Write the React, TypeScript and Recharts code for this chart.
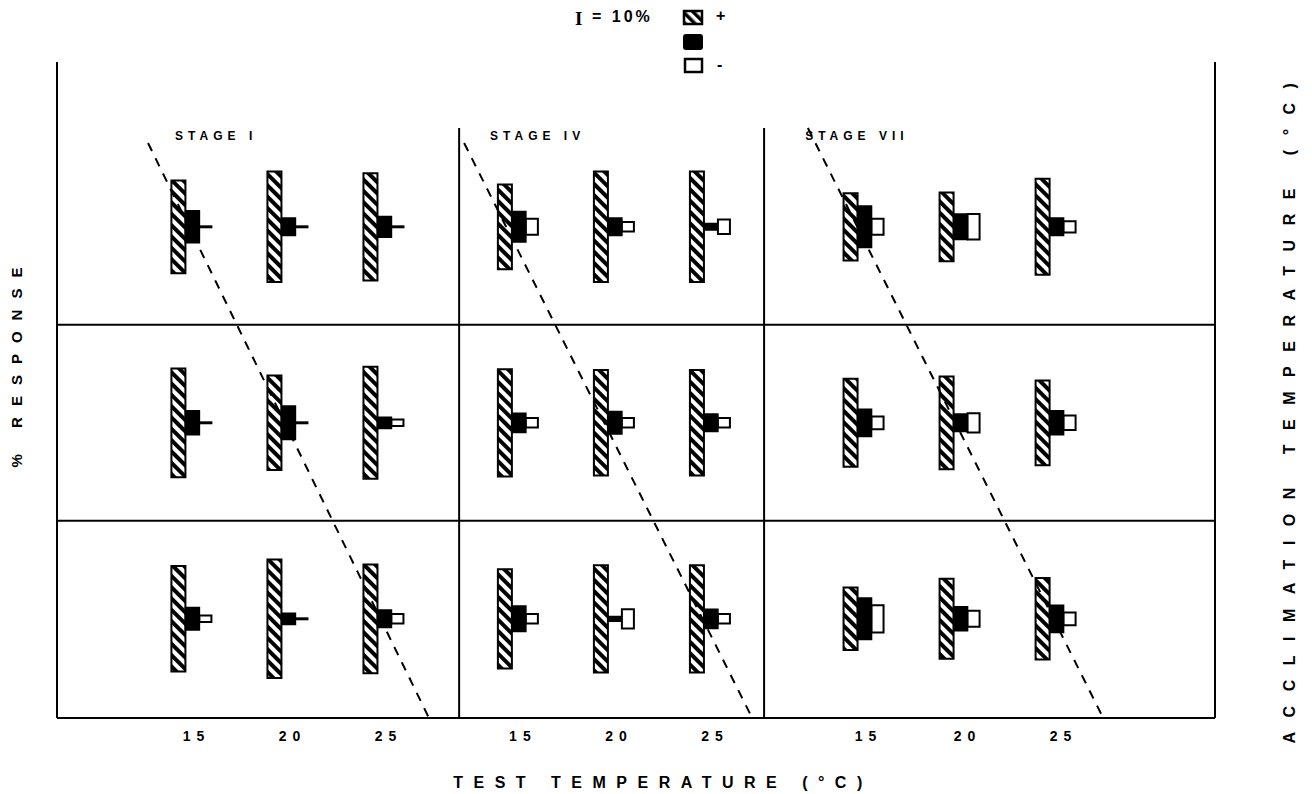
import { ComposedChart, Bar, XAxis, YAxis, ReferenceLine, ReferenceDot, Label } from 'recharts';

const stageNames = ['STAGE I', 'STAGE IV', 'STAGE VII'];
const testTemps = [15, 20, 25];
const acclimationTemps = [15, 20, 25];

// % response; order: acclimation 15 (test 15,20,25), acclimation 20 (...), acclimation 25 (...)
const stageIPlus = [58, 69, 67, 68, 59, 70, 66, 74, 68];
const stageIZero = [20, 11, 13, 15, 21, 7, 14, 7, 11];
const stageIMinus = [0.6, 0.6, 0.6, 0.6, 0.6, 4, 4, 0.6, 6];
const stageIVPlus = [53, 69, 69, 67, 66, 66, 62, 67, 67];
const stageIVZero = [19, 11, 4, 12, 14, 11, 16, 3, 12];
const stageIVMinus = [10, 6, 9, 6, 6, 6, 6, 12, 6];
const stageVIIPlus = [42, 43, 60, 55, 58, 53, 39, 50, 51];
const stageVIIZero = [26, 16, 11, 17, 11, 15, 26, 15, 17];
const stageVIIMinus = [10, 16, 7, 8, 12, 9, 17, 10, 8];

// layout (axis units: x = shifted test temp, y = % response)
const STAGE_SHIFT = [0, 17, 35];
const ROW_CENTER = [307, 184.5, 62];
const Y_MAX = 410;
const X_DOMAIN: [number, number] = [8, 68.3];
const STAGE_DIVIDERS = [28.94, 44.82];
const STAGE_LABEL_X = [14.15, 30.55, 46.96];
const DASHED = [
  [12.74, 359.4, 27.37, 0],
  [29.2, 359.4, 44.2, 0],
  [47.1, 368.75, 62.48, 0],
];

const FONT = '"Liberation Sans", Arial, sans-serif';

const plusSets = [stageIPlus, stageIVPlus, stageVIIPlus];
const zeroSets = [stageIZero, stageIVZero, stageVIIZero];
const minusSets = [stageIMinus, stageIVMinus, stageVIIMinus];

const data: any[] = [];
stageNames.forEach((_, s) => {
  acclimationTemps.forEach((_, r) => {
    testTemps.forEach((t, c) => {
      const i = r * 3 + c;
      const mid = ROW_CENTER[r];
      const span = (v: number) => [mid - v / 2, mid + v / 2];
      data.push({
        x: STAGE_SHIFT[s] + t,
        plus: span(plusSets[s][i]),
        zero: span(zeroSets[s][i]),
        minus: span(minusSets[s][i]),
      });
    });
  });
});

const xTicks = STAGE_SHIFT.flatMap((sh) => testTemps.map((t) => sh + t));

function TestTick(props: any) {
  const { x, y, index } = props;
  const nudge = index >= 7 ? 5 : 2;
  return (
    <text x={x + 3 + nudge} y={y + 15} textAnchor="middle" fontFamily={FONT} fontWeight="bold" fontSize={14} letterSpacing={6} fill="#000">
      {String(testTemps[index % 3])}
    </text>
  );
}

function AcclimTick(props: any) {
  const { x, y, payload } = props;
  const idx = ROW_CENTER.indexOf(payload.value);
  return (
    <text x={x + 32} y={y + 5} textAnchor="middle" fontFamily={FONT} fontWeight="bold" fontSize={14} letterSpacing={6} fill="#000">
      {String(acclimationTemps[idx])}
    </text>
  );
}

const textStyle = { fontFamily: FONT, fontWeight: 'bold' as const, fill: '#000' };

export default function App() {
  const divY = [(ROW_CENTER[0] + ROW_CENTER[1]) / 2, (ROW_CENTER[1] + ROW_CENTER[2]) / 2];
  return (
    <div style={{ position: 'absolute', left: 0, top: 0, width: 1312, height: 794, background: '#fff' }}>
      <svg width={200} height={80} style={{ position: 'absolute', left: 560, top: 0 }}>
        <defs>
          <pattern id="hatchLegend" patternUnits="userSpaceOnUse" width="7" height="7" patternTransform="rotate(-45)">
            <rect width="7" height="7" fill="#fff" />
            <rect width="3.5" height="7" fill="#000" />
          </pattern>
        </defs>
        <text x={15} y={25} fontSize={19} {...textStyle} fontFamily="'Liberation Serif', serif">I</text>
        <text x={32} y={22} fontSize={16} letterSpacing={3} {...textStyle}>= 10%</text>
        <rect x={124} y={11} width={18} height={13} fill="url(#hatchLegend)" stroke="#000" strokeWidth={2.5} />
        <text x={156} y={21} fontSize={16} {...textStyle}>+</text>
        <rect x={124} y={35} width={18} height={14} rx={2} fill="#000" stroke="#000" strokeWidth={2} />
        <rect x={125} y={59} width={17} height={13} fill="#fff" stroke="#000" strokeWidth={2.5} />
        <text x={157} y={70} fontSize={16} {...textStyle}>-</text>
      </svg>
      <ComposedChart width={1312} height={794} data={data} margin={{ top: 62, right: 0, bottom: 0, left: 0 }} barGap={0}>
        <defs>
          <pattern id="hatch" patternUnits="userSpaceOnUse" width="8" height="8" patternTransform="rotate(-45)">
            <rect width="8" height="8" fill="#fff" />
            <rect width="4" height="8" fill="#000" />
          </pattern>
        </defs>
        <XAxis
          dataKey="x"
          type="number"
          domain={X_DOMAIN}
          ticks={xTicks}
          interval={0}
          height={76}
          tickLine={false}
          axisLine={{ stroke: '#000', strokeWidth: 2 }}
          tick={<TestTick />}
        >
          <Label
            content={(p: any) => {
              const vb = p.viewBox;
              return (
                <text x={vb.x + 606} y={vb.y + 70} textAnchor="middle" fontSize={16} letterSpacing={10.5} {...textStyle}>
                  TEST  TEMPERATURE (°C)
                </text>
              );
            }}
          />
        </XAxis>
        <YAxis
          yAxisId="left"
          type="number"
          domain={[0, Y_MAX]}
          width={57}
          tick={false}
          tickLine={false}
          axisLine={{ stroke: '#000', strokeWidth: 2 }}
        >
          <Label
            content={(p: any) => {
              const vb = p.viewBox;
              const cx = vb.x + 22;
              const cy = 362;
              return (
                <text x={cx} y={cy} textAnchor="middle" transform={`rotate(-90 ${cx} ${cy})`} fontSize={15} letterSpacing={11} {...textStyle}>
                  % RESPONSE
                </text>
              );
            }}
          />
        </YAxis>
        <YAxis
          yAxisId="right"
          orientation="right"
          type="number"
          domain={[0, Y_MAX]}
          ticks={ROW_CENTER}
          interval={0}
          width={97}
          tickLine={false}
          axisLine={{ stroke: '#000', strokeWidth: 2 }}
          tick={<AcclimTick />}
        >
          <Label
            content={(p: any) => {
              const vb = p.viewBox;
              const cx = vb.x + 80;
              const cy = 406;
              return (
                <text x={cx} y={cy} textAnchor="middle" transform={`rotate(-90 ${cx} ${cy})`} fontSize={16} letterSpacing={14.5} {...textStyle}>
                  ACCLIMATION TEMPERATURE (°C)
                </text>
              );
            }}
          />
        </YAxis>

        {divY.map((y) => (
          <ReferenceLine key={y} yAxisId="left" y={y} stroke="#000" strokeWidth={2} />
        ))}
        {STAGE_DIVIDERS.map((x) => (
          <ReferenceLine
            key={x}
            yAxisId="left"
            segment={[{ x, y: 0 }, { x, y: 368.75 }]}
            stroke="#000"
            strokeWidth={2}
          />
        ))}
        {DASHED.map((d, i) => (
          <ReferenceLine
            key={i}
            yAxisId="left"
            segment={[{ x: d[0], y: d[1] }, { x: d[2], y: d[3] }]}
            stroke="#000"
            strokeWidth={2}
            strokeDasharray="9 8"
          />
        ))}
        {stageNames.map((name, s) => (
          <ReferenceDot
            key={name}
            yAxisId="left"
            x={STAGE_LABEL_X[s]}
            y={361}
            r={0}
            shape={(p: any) => (
              <text x={p.cx} y={p.cy} fontSize={12} letterSpacing={5} {...textStyle}>
                {name}
              </text>
            )}
          />
        ))}

        <Bar yAxisId="left" dataKey="plus" barSize={14} fill="url(#hatch)" stroke="#000" strokeWidth={2} isAnimationActive={false} />
        <Bar yAxisId="left" dataKey="zero" barSize={14} fill="#000" stroke="#000" strokeWidth={1.5} isAnimationActive={false} />
        <Bar yAxisId="left" dataKey="minus" barSize={12} fill="#fff" stroke="#000" strokeWidth={2} isAnimationActive={false} />
      </ComposedChart>
    </div>
  );
}
